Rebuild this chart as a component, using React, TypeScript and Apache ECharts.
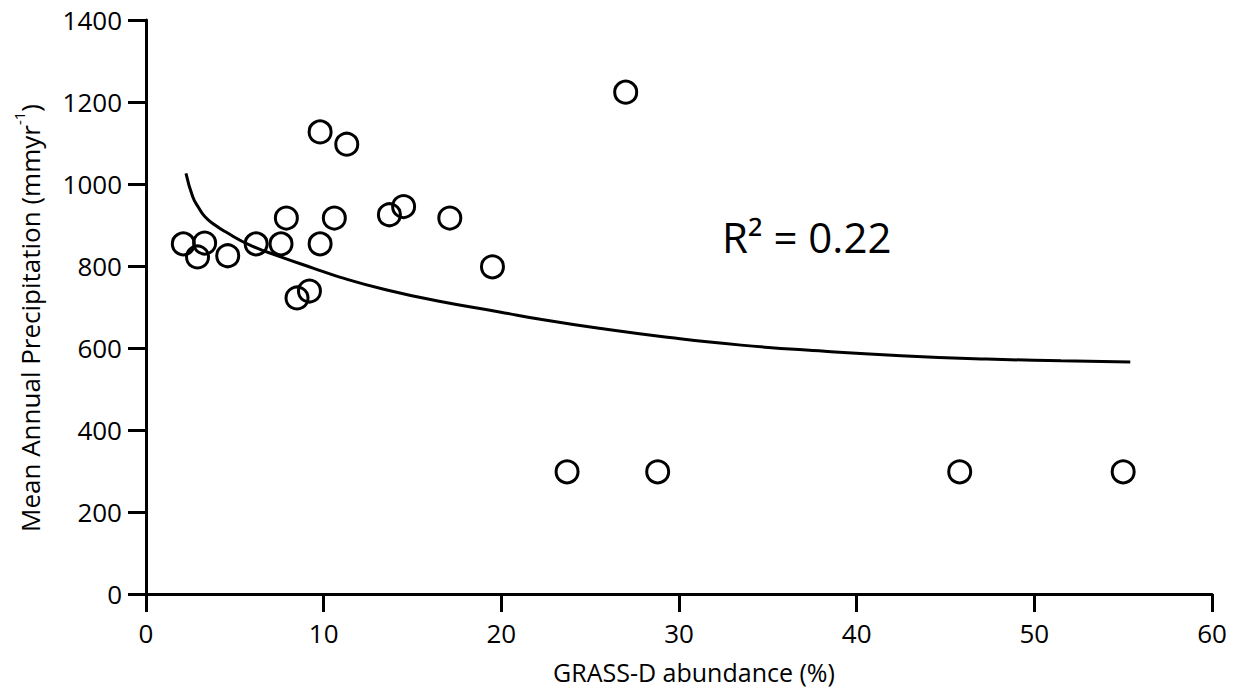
import React, { useEffect, useRef } from "react";
import * as echarts from "echarts";

const grassD: number[] = [2.1, 2.9, 3.3, 4.6, 6.2, 7.6, 7.9, 8.5, 9.2, 9.8, 9.8, 10.6, 11.3, 13.7, 14.5, 17.1, 19.5, 23.7, 27.0, 28.8, 45.8, 55.0];
const precip: number[] = [854, 822, 856, 825, 854, 854, 917, 722, 739, 1127, 854, 917, 1097, 925, 945, 917, 798, 298, 1224, 298, 298, 298];

const fitX: number[] = [2.25, 2.63, 2.94, 3.32, 3.88, 4.45, 5.85, 7.54, 9.4, 10.9, 13.5, 16.5, 19.9, 22.2, 25.5, 29.0, 33.5, 38.2, 42.5, 47.3, 51.5, 55.4];
const fitY: number[] = [1026, 969, 944, 920, 900, 884, 851, 823, 795, 773, 742, 714, 688, 670, 648, 628, 607, 592, 581, 573, 569, 566];

const xTicks: number[] = [0, 10, 20, 30, 40, 50, 60];
const yTicks: number[] = [0, 200, 400, 600, 800, 1000, 1200, 1400];

const xTitle = "GRASS-D abundance (%)";
const yTitle = "Mean Annual Precipitation (mmyr";
const r2Label = "R² = 0.22";

const FONT = "'Open Sans', sans-serif";
const TICK_LEN = 18;

export default function App() {
  const ref = useRef<HTMLDivElement>(null);
  useEffect(() => {
    document.body.style.margin = "0";
    if (!ref.current) return;
    const chart = echarts.init(ref.current, null, { renderer: "svg" });
    chart.setOption({
      animation: false,
      backgroundColor: "#fff",
      grid: { left: 146, right: 32, top: 20, bottom: 106 },
      xAxis: {
        type: "value",
        min: xTicks[0],
        max: xTicks[xTicks.length - 1],
        interval: xTicks[1] - xTicks[0],
        axisLine: { show: true, onZero: false, lineStyle: { color: "#000", width: 3 } },
        axisTick: { show: true, inside: false, length: TICK_LEN, lineStyle: { color: "#000", width: 3 } },
        splitLine: { show: false },
        axisLabel: { color: "#000", fontSize: 26, fontFamily: FONT, margin: 26, formatter: (v: number) => String(v) },
      },
      yAxis: {
        type: "value",
        min: yTicks[0],
        max: yTicks[yTicks.length - 1],
        interval: yTicks[1] - yTicks[0],
        axisLine: { show: true, onZero: false, lineStyle: { color: "#000", width: 3 } },
        axisTick: { show: true, inside: false, length: TICK_LEN, lineStyle: { color: "#000", width: 3 } },
        splitLine: { show: false },
        axisLabel: { color: "#000", fontSize: 26, fontFamily: FONT, margin: 24, formatter: (v: number) => String(v) },
      },
      series: [
        {
          type: "line",
          data: fitX.map((x, i) => [x, fitY[i]]),
          smooth: true,
          showSymbol: false,
          symbol: "none",
          lineStyle: { color: "#000", width: 3 },
          z: 2,
        },
        {
          type: "scatter",
          data: grassD.map((x, i) => [x, precip[i]]),
          symbol: "circle",
          symbolSize: 22,
          itemStyle: { color: "rgba(255,255,255,0)", borderColor: "#000", borderWidth: 3, opacity: 1 },
          z: 3,
        },
      ],
      graphic: [
        {
          type: "text",
          x: 694,
          y: 672,
          style: {
            text: xTitle,
            font: `25px ${FONT}`,
            fill: "#000",
            align: "center",
            verticalAlign: "middle",
          },
        },
        {
          type: "text",
          x: 27,
          y: 318,
          rotation: Math.PI / 2,
          style: {
            text: `{n|${yTitle}}{s|-1}{n|)}`,
            fill: "#000",
            align: "center",
            verticalAlign: "middle",
            rich: {
              n: { fontSize: 26, fontFamily: FONT, fill: "#000", lineHeight: 32, verticalAlign: "bottom" },
              s: { fontSize: 15, fontFamily: FONT, fill: "#000", lineHeight: 32, verticalAlign: "top" },
            },
          },
        },
        {
          type: "text",
          x: 722,
          y: 236,
          style: {
            text: r2Label,
            font: `42px ${FONT}`,
            fill: "#000",
            align: "left",
            verticalAlign: "middle",
          },
        },
      ],
    });
    return () => chart.dispose();
  }, []);
  return <div ref={ref} style={{ width: 1244, height: 700 }} />;
}
